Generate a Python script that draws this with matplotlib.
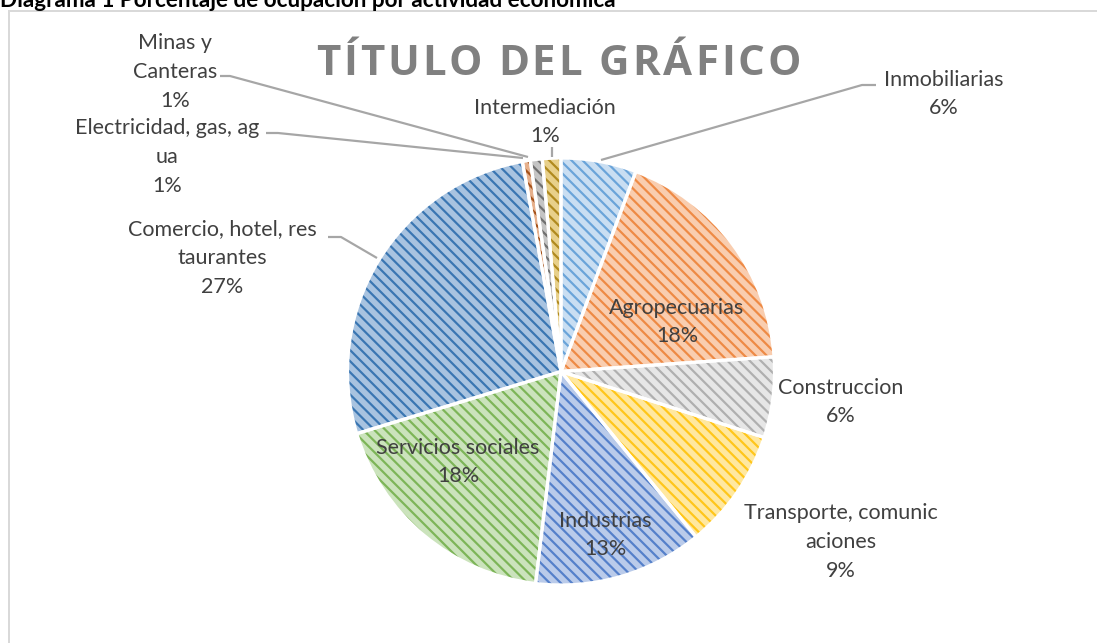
import matplotlib
matplotlib.use('Agg')
import matplotlib.pyplot as plt
from matplotlib.patches import Rectangle
from matplotlib.font_manager import FontProperties

# ---------------- data ----------------
categories = ['Inmobiliarias', 'Agropecuarias', 'Construccion',
              'Transporte, comunic\naciones', 'Industrias', 'Servicios sociales',
              'Comercio, hotel, res\ntaurantes', 'Electricidad, gas, ag\nua',
              'Minas y\nCanteras', 'Intermediación']
values = [5.7, 18.2, 6.1, 9.1, 12.8, 18.4, 26.8, 0.6, 0.9, 1.4]
title_text = 'TÍTULO DEL GRÁFICO'
caption_text = 'Diagrama 1 Porcentaje de ocupación por actividad económica'

# ---------------- style ----------------
fill_colors = ['#C9DEF2', '#F9CDAF', '#E6E6E6', '#FFE8A0', '#BACBEA', '#CBE3BC',
               '#A8C3E0', '#E6B08C', '#C4C4C4', '#E8D08A']
stripe_colors = ['#6AA4D9', '#EE8A45', '#AFAFAF', '#FFC61A', '#5580CA', '#7DB558',
                 '#3A76B2', '#A5531C', '#707070', '#B08A1E']

W, H = 1097, 643
DPI = 100


def pt(p):
    return p * 72.0 / DPI


def Y(y):
    return H - y


plt.rcParams['hatch.linewidth'] = pt(2.2)

fig = plt.figure(figsize=(W / DPI, H / DPI), dpi=DPI)
ax = fig.add_axes([0, 0, 1, 1])

cx, cy, R = 561, 371.5, 213.5
wedges, _ = ax.pie(values, radius=R, center=(cx, Y(cy)), startangle=90,
                   counterclock=False, colors=fill_colors)
for w, s in zip(wedges, stripe_colors):
    w.set_hatch('\\\\\\')
    w.set_edgecolor(s)
    w.set_linewidth(0)
ax.pie(values, radius=R, center=(cx, Y(cy)), startangle=90, counterclock=False,
       colors=['none'] * len(values),
       wedgeprops=dict(edgecolor='white', linewidth=pt(3.2)))

ax.set_xlim(0, W)
ax.set_ylim(0, H)
ax.set_aspect('auto')
ax.axis('off')

# chart border
ax.add_patch(Rectangle((9, Y(650)), 1100, 639, fill=False, edgecolor='#D9D9D9',
                       linewidth=pt(2), clip_on=False))

# caption (cut at top as in reference)
ax.text(0, Y(7), caption_text, fontsize=pt(22.5), fontweight='bold', family='Lato',
        color='black', ha='left', va='baseline')

# labels
label_pos = [(944, 94), (677, 322), (841, 402), (841, 542), (605, 535),
             (458, 462), (222, 258), (167, 157), (175, 72), (545, 122)]
for cat, v, (lx, ly) in zip(categories, values, label_pos):
    ax.text(lx, Y(ly), f'{cat}\n{round(v)}%', ha='center', va='center',
            multialignment='center', fontsize=pt(21.5), family='Lato',
            color='#404040', linespacing=1.55)

# leader lines
leaders = [
    [(876, 85), (862, 85), (601, 160)],
    [(220, 76), (230, 76), (528, 157)],
    [(266, 133), (278, 133), (523, 158)],
    [(328, 237), (341, 237), (377, 258)],
    [(552, 147), (552, 157)],
]
for pts in leaders:
    xs = [p[0] for p in pts]
    ys = [Y(p[1]) for p in pts]
    ax.plot(xs, ys, color='#A6A6A6', lw=pt(2.2), solid_capstyle='butt')

# letter-spaced title
renderer = fig.canvas.get_renderer()
tprop = FontProperties(family='Open Sans', weight='bold', size=pt(42))


def tw(s):
    w, h, d = renderer.get_text_width_height_descent(s, tprop, ismath=False)
    return w


ref_w = tw('X')
natural = tw(title_text)
target_w = 484
n = len(title_text)
extra = (target_w - natural) / (n - 1)
x0 = 316
for i, ch in enumerate(title_text):
    if ch == ' ':
        continue
    xi = x0 + (tw(title_text[:i] + 'X') - ref_w if i > 0 else 0) + i * extra
    ax.text(xi, Y(75), ch, fontproperties=tprop, color='#808080',
            ha='left', va='baseline')

fig.savefig('out.png', dpi=DPI)
